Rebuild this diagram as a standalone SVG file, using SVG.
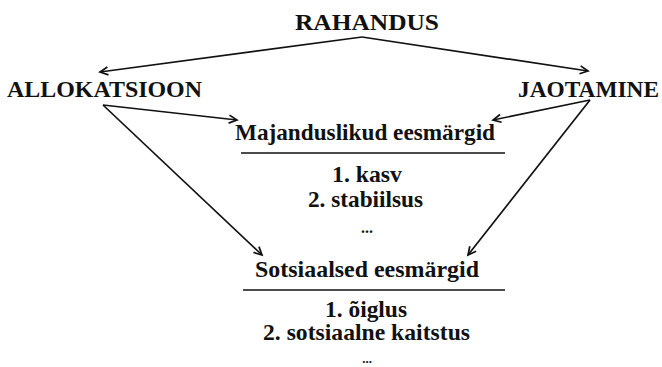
<svg xmlns="http://www.w3.org/2000/svg" width="662" height="367" viewBox="0 0 662 367">
<style>
text{font-family:"Liberation Serif","DejaVu Serif",serif;font-weight:bold;font-size:22.5px;fill:#111}
.c{text-anchor:middle}
.ln{stroke:#111;stroke-width:1.7;fill:none}
.rule{stroke:#111;stroke-width:1.5}
.dots{font-size:16px}
.dots2{font-size:13px}
</style>
<defs>
<marker id="ah" markerUnits="userSpaceOnUse" markerWidth="12" markerHeight="12" refX="9" refY="5" orient="auto">
<path d="M1,1 L9,5 L1,9" fill="none" stroke="#111" stroke-width="1.7"/>
</marker>
</defs>
<g id="connectors">
<line class="ln" x1="362" y1="37" x2="100" y2="72" marker-end="url(#ah)"/>
<line class="ln" x1="362" y1="37" x2="588" y2="71" marker-end="url(#ah)"/>
<line class="ln" x1="103" y1="105" x2="237" y2="120" marker-end="url(#ah)"/>
<line class="ln" x1="103" y1="105" x2="262" y2="255" marker-end="url(#ah)"/>
<line class="ln" x1="590" y1="100" x2="493" y2="120" marker-end="url(#ah)"/>
<line class="ln" x1="590" y1="100" x2="468" y2="255" marker-end="url(#ah)"/>
</g>
<g id="rahandus"><text x="295" y="30" textLength="144" lengthAdjust="spacingAndGlyphs">RAHANDUS</text></g>
<g id="allokatsioon"><text x="7" y="97" textLength="195" lengthAdjust="spacingAndGlyphs">ALLOKATSIOON</text></g>
<g id="jaotamine"><text x="518" y="97" textLength="141" lengthAdjust="spacingAndGlyphs">JAOTAMINE</text></g>
<g id="majanduslikud">
<text x="235" y="140" textLength="260" lengthAdjust="spacingAndGlyphs">Majanduslikud eesmärgid</text>
<line class="rule" x1="241" y1="153" x2="505" y2="153"/>
<text x="332" y="182" textLength="70" lengthAdjust="spacingAndGlyphs">1. kasv</text>
<text x="308" y="207" textLength="115" lengthAdjust="spacingAndGlyphs">2. stabiilsus</text>
<text class="c dots" x="367" y="233">...</text>
</g>
<g id="sotsiaalsed">
<text x="255" y="277" textLength="224" lengthAdjust="spacingAndGlyphs">Sotsiaalsed eesmärgid</text>
<line class="rule" x1="243" y1="290" x2="505" y2="290"/>
<text x="325" y="317" textLength="82" lengthAdjust="spacingAndGlyphs">1. õiglus</text>
<text x="263" y="340" textLength="207" lengthAdjust="spacingAndGlyphs">2. sotsiaalne kaitstus</text>
<text class="c dots2" x="367" y="363">...</text>
</g>
</svg>
